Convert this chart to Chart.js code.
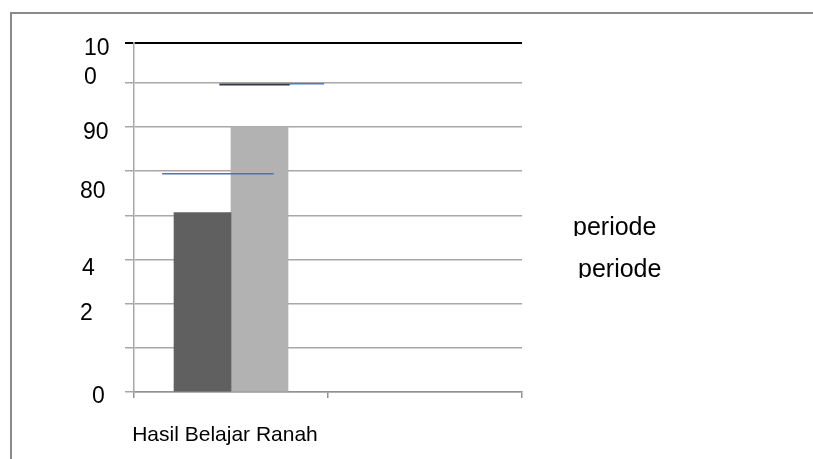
<!DOCTYPE html>
<html>
<head>
<meta charset="utf-8">
<script src="https://cdn.jsdelivr.net/npm/chart.js@4.4.0/dist/chart.umd.min.js"></script>
<style>
  body { margin:0; background:#fff; overflow:hidden; }
  #wrap { position:relative; width:813px; height:459px; }
  #frame { position:absolute; left:10px; top:12px; width:900px; height:500px;
           border-top:2px solid #8a8a8a; border-left:2px solid #8a8a8a; }
  canvas { position:absolute; left:0; top:0; }
</style>
</head>
<body>
<div id="wrap">
  <div id="frame"></div>
  <canvas id="myChart" width="813" height="459"></canvas>
</div>
<script>
// data
const categories = ["Hasil Belajar Ranah", ""];
const seriesNames = ["periode", "periode"];
const periode1 = [40.6, null];
const periode2 = [60, null];
const yMax = 79;
const yGridValues = [0, 10, 20, 30, 40, 50, 60, 70, 79];
// the y labels in the picture sit at odd places
const yTickText = ["0", "2", "4", "80", "90", "0", "10"];
const yTickAt = [-1.1, 17.8, 27.9, 45.4, 58.7, 71.2, 77.7];
// stray lines in the picture
const blueLow = [{x:0.145, y:49.4}, {x:0.72, y:49.4}];
const darkTop = [{x:0.44, y:69.6}, {x:0.803, y:69.6}];
const blueTop = [{x:0.803, y:69.8}, {x:0.98, y:69.8}];

// layout
const yLabelX = [92, 80, 82, 80, 83, 84, 84];
const legendX = [573, 578];
const legendBase = [235, 277];
const gridGray = "#a8a8a8";
const axisGray = "#929292";

const textPlugin = {
    id: "texts",
    afterDraw(chart) {
        var ctx = chart.ctx;
        var y = chart.scales.y;
        ctx.save();
        ctx.fillStyle = "#000";
        ctx.font = '23px "Liberation Sans"';
        ctx.textAlign = "left";
        ctx.textBaseline = "middle";
        for (var i = 0; i < yTickText.length; i++) {
            ctx.fillText(yTickText[i], yLabelX[i], y.getPixelForValue(yTickAt[i]));
        }
        // legend without colour boxes, clipped at the baseline
        ctx.font = '25px "Liberation Sans"';
        ctx.textBaseline = "alphabetic";
        var bars = chart.data.datasets.filter(d => d.type === "bar");
        for (var j = 0; j < bars.length; j++) {
            ctx.save();
            ctx.beginPath();
            ctx.rect(legendX[j] - 5, legendBase[j] - 30, 120, 31);
            ctx.clip();
            ctx.fillText(bars[j].label, legendX[j], legendBase[j]);
            ctx.restore();
        }
        ctx.restore();
    }
};

function lineSet(pts, color, w) {
    return { type: "line", data: pts, xAxisID: "xd", borderColor: color,
             borderWidth: w, pointRadius: 0, order: 0, fill: false };
}

var ctx = document.getElementById("myChart").getContext("2d");
var myChart = new Chart(ctx, {
    type: "bar",
    data: {
        labels: categories,
        datasets: [
            lineSet(blueLow, "#4472c4", 1.5),
            lineSet(darkTop, "#333a48", 2),
            lineSet(blueTop, "#4a7bd0", 1.5),
            { type: "bar", label: seriesNames[0], data: periode1, backgroundColor: "#606060", order: 1, xAxisID: "x" },
            { type: "bar", label: seriesNames[1], data: periode2, backgroundColor: "#b2b2b2", order: 1, xAxisID: "x" }
        ]
    },
    options: {
        responsive: false,
        animation: false,
        layout: { padding: { left: 0, top: 43, right: 291, bottom: 0 } },
        datasets: { bar: { barThickness: 57 } },
        plugins: { legend: { display: false }, tooltip: { enabled: false } },
        scales: {
            x: {
                type: "category",
                offset: true,
                grid: { drawOnChartArea: false, offset: true, tickLength: 6, color: axisGray, lineWidth: 1.5 },
                border: { color: axisGray, width: 1.5 },
                ticks: { color: "#000", font: { family: "Liberation Sans", size: 21 }, padding: 25,
                         labelOffset: -6, maxRotation: 0, autoSkip: false },
                afterFit: function(s) { s.height = 67; }
            },
            xd: { type: "linear", min: 0, max: 2, offset: false, display: false },
            y: {
                min: 0,
                max: yMax,
                afterBuildTicks: function(s) { s.ticks = yGridValues.map(v => ({ value: v })); },
                grid: {
                    tickLength: 9,
                    color: c => (c.tick && c.tick.value === yMax) ? "#000" : gridGray,
                    lineWidth: c => (c.tick && c.tick.value === yMax) ? 2 : 1.5
                },
                border: { color: gridGray, width: 1.5 },
                ticks: { callback: () => "", padding: 0 },
                afterFit: function(s) { s.width = 134; }
            }
        }
    },
    plugins: [textPlugin]
});
</script>
</body>
</html>
